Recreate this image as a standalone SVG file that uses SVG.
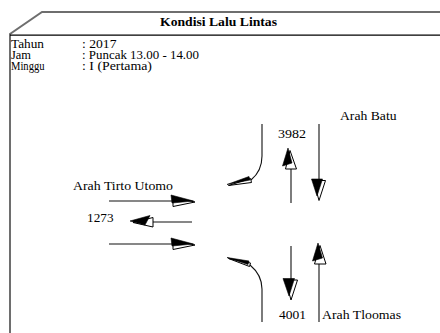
<svg xmlns="http://www.w3.org/2000/svg" width="440" height="333" viewBox="0 0 440 333">
<style>
.t{font-size:11.5px}
.l{font-size:12px}
.ttl{font-size:13px;font-weight:bold}
.ln{fill:none;stroke:#111;stroke-width:1.1}
.hb{fill:#000;stroke:#000;stroke-width:0.6}
.hw{fill:#fff;stroke:#000;stroke-width:1}
.fr{fill:none;stroke:#6e6e6e;stroke-width:2}
</style>
<rect width="440" height="333" fill="#fff"/>
<g id="frame">
<path class="fr" d="M440,12 H42 L10,34 V333"/>
<path d="M10,35.2 H440" stroke="#000" stroke-width="1.3"/>
</g>
<g font-family="'Liberation Serif', 'Times New Roman', Times, serif" fill="#000">
<g id="header">
<text class="ttl" x="160" y="25.5" textLength="117" lengthAdjust="spacingAndGlyphs">Kondisi Lalu Lintas</text>
<text class="t" x="11" y="47.5" textLength="33" lengthAdjust="spacingAndGlyphs">Tahun</text>
<text class="t" x="11" y="58.5" textLength="20" lengthAdjust="spacingAndGlyphs">Jam</text>
<text class="t" x="11" y="69.5" textLength="33.5" lengthAdjust="spacingAndGlyphs">Minggu</text>
<text class="t" x="82" y="47.5" textLength="34.5" lengthAdjust="spacingAndGlyphs">: 2017</text>
<text class="t" x="82" y="58.5" textLength="117" lengthAdjust="spacingAndGlyphs">: Puncak 13.00 - 14.00</text>
<text class="t" x="82" y="69.5" textLength="70" lengthAdjust="spacingAndGlyphs">: I (Pertama)</text>
</g>
<g id="label-tirto">
<text class="l" x="73" y="190" textLength="100" lengthAdjust="spacingAndGlyphs">Arah Tirto Utomo</text>
<text class="l" x="87" y="222" textLength="26.5" lengthAdjust="spacingAndGlyphs">1273</text>
</g>
<g id="label-batu">
<text class="l" x="340" y="120" textLength="56.5" lengthAdjust="spacingAndGlyphs">Arah Batu</text>
<text class="l" x="278" y="137.5" textLength="28" lengthAdjust="spacingAndGlyphs">3982</text>
</g>
<g id="label-tloomas">
<text class="l" x="279" y="319" textLength="27" lengthAdjust="spacingAndGlyphs">4001</text>
<text class="l" x="322" y="318.5" textLength="79" lengthAdjust="spacingAndGlyphs">Arah Tloomas</text>
</g>
</g>
<g id="connectors">
<!-- west approach -->
<path class="ln" d="M109,201 H173"/>
<polygon class="hw" points="195,202 173,197.5 173,206.5"/>
<polygon class="hb" points="193.5,201 171,195 172,203"/>
<path class="ln" d="M192,222 H152"/>
<polygon class="hw" points="133,222.5 153,217.5 153,227"/>
<polygon class="hb" points="130,221 150,215.5 145,225"/>
<path class="ln" d="M109,244 H173"/>
<polygon class="hw" points="195,245 173,240.5 173,249.5"/>
<polygon class="hb" points="193.5,244 171,238 172,246"/>
<!-- north approach -->
<path class="ln" d="M262,124 V156 Q262,171 251,180"/>
<polygon class="hw" points="228.5,185.5 250.5,178.5 251.5,182.5"/>
<polygon class="hb" points="227,184.5 249,176.5 250,180"/>
<path class="ln" d="M291,203 V168"/>
<polygon class="hw" points="290,150.5 285.5,169 296.5,169"/>
<polygon class="hb" points="288,148 282.5,166 292,163"/>
<path class="ln" d="M319,124 V181"/>
<polygon class="hw" points="319,200.5 313.5,180.5 325.5,180.5"/>
<polygon class="hb" points="317,196 311.5,179 322.5,179"/>
<!-- south approach -->
<path class="ln" d="M262,322 V289 Q262,275 250,265"/>
<polygon class="hw" points="228.5,258.5 250.5,263 249.5,266.5"/>
<polygon class="hb" points="227,257.5 249,261 248,264.5"/>
<path class="ln" d="M291,246 V280"/>
<polygon class="hw" points="291,300 285.5,280 297.5,280"/>
<polygon class="hb" points="289,296 283,278.5 294.5,278.5"/>
<path class="ln" d="M319,322 V262"/>
<polygon class="hw" points="320,245.5 314.5,264 326,264"/>
<polygon class="hb" points="318,243 312.5,261 322.5,258"/>
</g>
</svg>
